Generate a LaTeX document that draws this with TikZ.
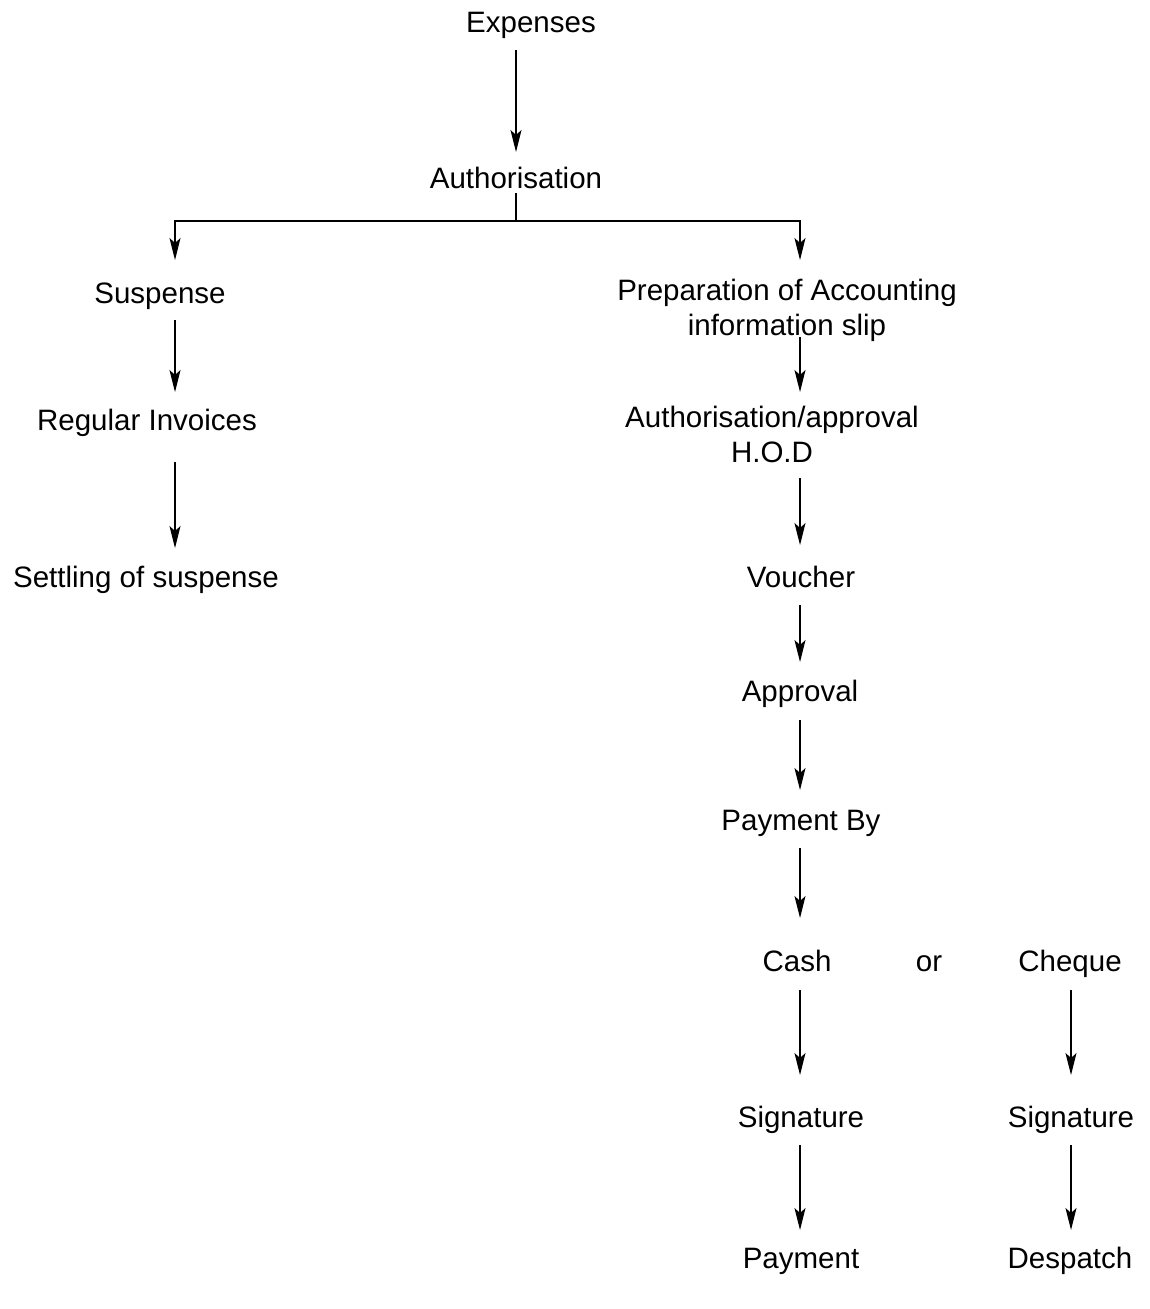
\documentclass[tikz,border=0pt]{standalone}
\usepackage{fontspec}
\setmainfont{Liberation Sans}
\usetikzlibrary{arrows.meta,calc}
\tikzset{
  lbl/.style={inner sep=0pt, outer sep=0pt, anchor=base, align=center, font=\fontsize{29.5}{35}\selectfont},
  arr/.style={line width=1.2pt, -{Stealth[length=22pt,width=11pt,inset=5pt]}},
  ln/.style={line width=1.2pt}
}
\begin{document}
\begin{tikzpicture}[x=1pt,y=-1pt]
\useasboundingbox (0,0) rectangle (1149,1309);
\coordinate (L) at (175,0);
\coordinate (R) at (800,0);
\coordinate (C) at (1071,0);
\coordinate (M) at (516,0);
% nodes
\node[lbl] (exp) at (531,32) {Expenses};
\node[lbl] (auth) at (516,188) {Authorisation};
\node[lbl] (sus) at (160,303) {Suspense};
\node[lbl] (prep) at (787,335) {Preparation of Accounting\\information slip};
\node[lbl] (reg) at (147,430) {Regular Invoices};
\node[lbl] (set) at (146,587) {Settling of suspense};
\node[lbl] (aa) at (772,462) {Authorisation/approval\\H.O.D};
\node[lbl] (vou) at (801,587) {Voucher};
\node[lbl] (app) at (800,701) {Approval};
\node[lbl] (pby) at (801,830) {Payment By};
\node[lbl] (cash) at (797,971) {Cash};
\node[lbl] (or) at (929,971) {or};
\node[lbl] (chq) at (1070,971) {Cheque};
\node[lbl] (sig1) at (801,1127) {Signature};
\node[lbl] (sig2) at (1071,1127) {Signature};
\node[lbl] (pay) at (801,1268) {Payment};
\node[lbl] (des) at (1070,1268) {Despatch};
% connectors
\draw[arr] ($(exp.base -| M)+(0,18)$) -- ($(auth.base -| M)+(0,-36)$);
\coordinate (split) at ($(auth.base -| M)+(0,33)$);
\draw[ln] ($(auth.base -| M)+(0,5)$) -- (split);
\draw[arr] (split) -| ($(sus.base -| L)+(0,-43)$);
\draw[arr] (split) -| ($(prep.base -| R)+(0,-75)$);
\draw[arr] ($(sus.base -| L)+(0,17)$) -- ($(reg.base -| L)+(0,-38)$);
\draw[arr] ($(reg.base -| L)+(0,32)$) -- ($(set.base -| L)+(0,-39)$);
\draw[arr] ($(prep.base -| R)+(0,2)$) -- ($(aa.base -| R)+(0,-70)$);
\draw[arr] ($(aa.base -| R)+(0,16)$) -- ($(vou.base -| R)+(0,-42)$);
\draw[arr] ($(vou.base -| R)+(0,18)$) -- ($(app.base -| R)+(0,-39)$);
\draw[arr] ($(app.base -| R)+(0,19)$) -- ($(pby.base -| R)+(0,-40)$);
\draw[arr] ($(pby.base -| R)+(0,18)$) -- ($(cash.base -| R)+(0,-53)$);
\draw[arr] ($(cash.base -| R)+(0,19)$) -- ($(sig1.base -| R)+(0,-52)$);
\draw[arr] ($(chq.base -| C)+(0,19)$) -- ($(sig2.base -| C)+(0,-52)$);
\draw[arr] ($(sig1.base -| R)+(0,18)$) -- ($(pay.base -| R)+(0,-38)$);
\draw[arr] ($(sig2.base -| C)+(0,18)$) -- ($(des.base -| C)+(0,-38)$);
\end{tikzpicture}
\end{document}
